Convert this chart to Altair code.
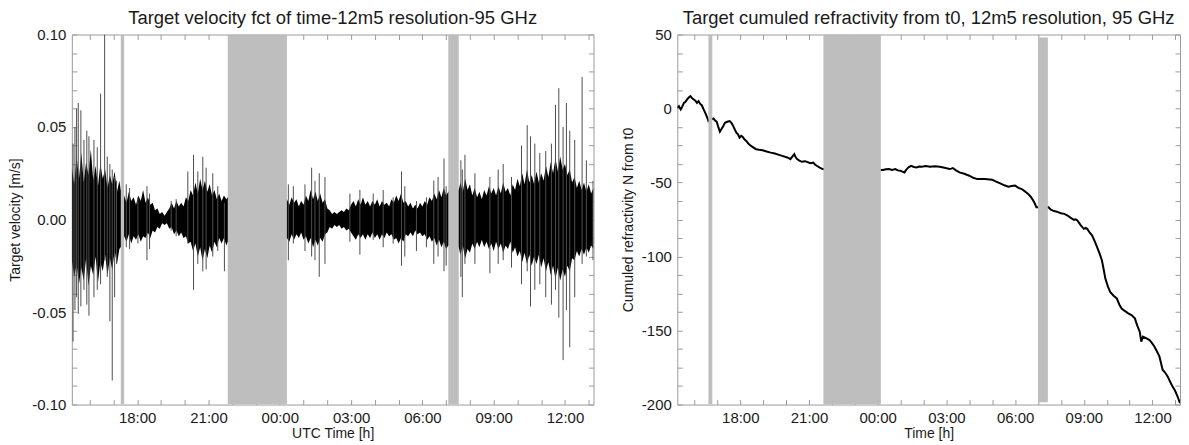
import altair as alt
import pandas as pd

# ---------------- data ----------------
# Left panel: target velocity (m/s); time in hours since 00:00 of day 1
# dense black core of the signal (upper / lower edge)
core_t = [15.25, 15.35, 15.45, 15.55, 15.65, 15.75, 15.85, 15.95, 16.05, 16.15, 16.25, 16.35,
          16.45, 16.55, 16.65, 16.75, 16.85, 16.95, 17.05, 17.15, 17.25, 17.31,
          17.45, 17.55, 17.65, 17.75, 17.85, 17.95, 18.05, 18.15, 18.25, 18.35, 18.45, 18.55,
          18.65, 18.75, 18.85, 18.95, 19.05, 19.15, 19.25, 19.35, 19.45, 19.55, 19.65, 19.75,
          19.85, 19.95, 20.05, 20.15, 20.25, 20.35, 20.45, 20.55, 20.65, 20.75, 20.85, 20.95,
          21.05, 21.15, 21.25, 21.35, 21.45, 21.55, 21.65, 21.75, 21.81,
          24.3, 24.4, 24.5, 24.6, 24.7, 24.8, 24.9, 25.0, 25.1, 25.2, 25.3, 25.4,
          25.5, 25.6, 25.7, 25.8, 25.9, 26.0, 26.1, 26.2, 26.3, 26.4, 26.5, 26.6,
          26.7, 26.8, 26.9, 27.0, 27.1, 27.2, 27.3, 27.4, 27.5, 27.6, 27.7, 27.8,
          27.9, 28.0, 28.1, 28.2, 28.3, 28.4, 28.5, 28.6, 28.7, 28.8, 28.9, 29.0,
          29.1, 29.2, 29.3, 29.4, 29.5, 29.6, 29.7, 29.8, 29.9, 30.0, 30.1, 30.2,
          30.3, 30.4, 30.5, 30.6, 30.7, 30.8, 30.9, 31.0, 31.09,
          31.53, 31.6, 31.7, 31.8, 31.9, 32.0, 32.1, 32.2, 32.3, 32.4, 32.5, 32.6,
          32.7, 32.8, 32.9, 33.0, 33.1, 33.2, 33.3, 33.4, 33.5, 33.6, 33.7, 33.8,
          33.9, 34.0, 34.1, 34.2, 34.3, 34.4, 34.5, 34.6, 34.7, 34.8, 34.9, 35.0,
          35.1, 35.2, 35.3, 35.4, 35.5, 35.6, 35.7, 35.8, 35.9, 36.0, 36.1, 36.2,
          36.3, 36.4, 36.5, 36.6, 36.7, 36.8, 36.9, 37.0, 37.1, 37.2]
core_hi = [0.028, 0.019, 0.034, 0.022, 0.036, 0.020, 0.031, 0.024, 0.038, 0.021, 0.029, 0.018,
           0.030, 0.022, 0.027, 0.017, 0.024, 0.019, 0.026, 0.015, 0.021, 0.016,
           0.013, 0.009, 0.015, 0.010, 0.012, 0.008, 0.013, 0.010, 0.016, 0.009, 0.012, 0.008,
           0.009, 0.005, 0.006, 0.003, 0.004, 0.002, 0.004, 0.006, 0.009, 0.006, 0.010, 0.007,
           0.009, 0.007, 0.012, 0.010, 0.016, 0.013, 0.020, 0.014, 0.022, 0.016, 0.021, 0.015,
           0.019, 0.013, 0.016, 0.011, 0.014, 0.010, 0.013, 0.011, 0.012,
           0.011, 0.008, 0.012, 0.009, 0.011, 0.007, 0.010, 0.008, 0.013, 0.010, 0.016, 0.011,
           0.015, 0.010, 0.014, 0.009, 0.011, 0.006, 0.005, 0.003, 0.004, 0.003, 0.004, 0.005,
           0.004, 0.006, 0.005, 0.008, 0.010, 0.007, 0.011, 0.008, 0.012, 0.008, 0.010, 0.007,
           0.010, 0.008, 0.011, 0.007, 0.010, 0.008, 0.009, 0.007, 0.011, 0.009, 0.013, 0.010,
           0.014, 0.009, 0.010, 0.007, 0.009, 0.006, 0.008, 0.006, 0.009, 0.007, 0.010, 0.008,
           0.012, 0.010, 0.014, 0.011, 0.016, 0.012, 0.017, 0.013, 0.015,
           0.016, 0.020, 0.015, 0.022, 0.016, 0.019, 0.013, 0.017, 0.012, 0.015, 0.011, 0.016,
           0.013, 0.018, 0.014, 0.017, 0.013, 0.018, 0.014, 0.020, 0.015, 0.017, 0.013, 0.019,
           0.016, 0.022, 0.018, 0.025, 0.019, 0.027, 0.020, 0.024, 0.019, 0.026, 0.020, 0.025,
           0.021, 0.029, 0.023, 0.031, 0.025, 0.033, 0.026, 0.034, 0.027, 0.030, 0.024, 0.027,
           0.020, 0.023, 0.017, 0.021, 0.016, 0.020, 0.015, 0.019, 0.014, 0.017]
core_lo = [-0.022, -0.031, -0.024, -0.035, -0.026, -0.033, -0.021, -0.036, -0.025, -0.030, -0.020, -0.034,
           -0.023, -0.028, -0.019, -0.030, -0.021, -0.027, -0.017, -0.024, -0.016, -0.015,
           -0.009, -0.012, -0.008, -0.013, -0.009, -0.011, -0.008, -0.012, -0.009, -0.010, -0.007, -0.010,
           -0.006, -0.007, -0.004, -0.005, -0.002, -0.003, -0.002, -0.005, -0.004, -0.008, -0.006, -0.009,
           -0.007, -0.010, -0.009, -0.013, -0.012, -0.017, -0.013, -0.020, -0.015, -0.022, -0.016, -0.021,
           -0.014, -0.018, -0.012, -0.015, -0.010, -0.013, -0.010, -0.014, -0.012,
           -0.010, -0.012, -0.008, -0.011, -0.008, -0.010, -0.007, -0.011, -0.009, -0.013, -0.010, -0.015,
           -0.011, -0.014, -0.010, -0.012, -0.008, -0.007, -0.004, -0.005, -0.003, -0.004, -0.003, -0.005,
           -0.004, -0.006, -0.005, -0.007, -0.009, -0.011, -0.008, -0.010, -0.008, -0.011, -0.008, -0.010,
           -0.007, -0.010, -0.008, -0.011, -0.008, -0.010, -0.007, -0.009, -0.008, -0.011, -0.010, -0.013,
           -0.010, -0.012, -0.008, -0.009, -0.007, -0.009, -0.006, -0.008, -0.007, -0.009, -0.008, -0.011,
           -0.009, -0.012, -0.010, -0.014, -0.011, -0.015, -0.012, -0.016, -0.014,
           -0.015, -0.019, -0.014, -0.021, -0.016, -0.018, -0.013, -0.016, -0.012, -0.015, -0.011, -0.015,
           -0.012, -0.016, -0.013, -0.017, -0.012, -0.016, -0.013, -0.018, -0.014, -0.016, -0.012, -0.018,
           -0.015, -0.020, -0.017, -0.023, -0.018, -0.024, -0.019, -0.025, -0.020, -0.024, -0.019, -0.026,
           -0.021, -0.028, -0.023, -0.030, -0.025, -0.032, -0.026, -0.033, -0.027, -0.031, -0.025, -0.028,
           -0.021, -0.022, -0.017, -0.020, -0.016, -0.019, -0.015, -0.018, -0.014, -0.016]

# isolated spikes that stick out of the core (top / bottom)
spike_t = [15.30, 15.38, 15.45, 15.52, 15.63, 15.76, 15.88, 15.97, 16.18, 16.32, 16.46, 16.63,
           16.74, 16.85, 16.95, 17.05, 17.13, 17.54, 17.68, 18.03, 18.41, 18.52, 19.43, 19.64,
           20.13, 20.37, 20.55, 20.76, 20.90, 21.18, 21.39, 21.67, 24.36, 24.57, 25.06, 25.34,
           25.48, 25.66, 25.90, 26.95, 27.37, 27.93, 28.35, 28.77, 29.12, 29.26, 29.75, 30.17,
           30.48, 30.66, 30.91, 31.00, 31.62, 31.68, 31.79, 32.21, 32.84, 33.19, 33.40, 33.75,
           34.17, 34.41, 34.55, 34.73, 34.94, 35.19, 35.43, 35.60, 35.74, 35.92, 36.06, 36.20,
           36.41, 36.72, 36.90, 37.18]
spike_hi = [0.041, 0.050, 0.060, 0.063, 0.059, 0.043, 0.048, 0.045, 0.043, 0.039, 0.068, 0.100,
            0.034, 0.030, 0.027, 0.023, 0.021, 0.019, 0.017, 0.012, 0.018, 0.014, 0.010, 0.011,
            0.026, 0.035, 0.026, 0.034, 0.028, 0.025, 0.018, 0.009, 0.019, 0.018, 0.019, 0.028,
            0.021, 0.025, 0.023, 0.014, 0.016, 0.014, 0.016, 0.012, 0.026, 0.018, 0.010, 0.012,
            0.021, 0.023, 0.033, 0.018, 0.032, 0.027, 0.035, 0.025, 0.023, 0.027, 0.030, 0.023,
            0.040, 0.051, 0.045, 0.041, 0.036, 0.037, 0.041, 0.062, 0.071, 0.050, 0.063, 0.048,
            0.043, 0.077, 0.032, 0.021]
spike_lo = [-0.066, -0.049, -0.042, -0.051, -0.047, -0.038, -0.046, -0.052, -0.042, -0.038, -0.035, -0.022,
            -0.031, -0.055, -0.087, -0.042, -0.024, -0.015, -0.016, -0.013, -0.022, -0.016, -0.006, -0.009,
            -0.013, -0.038, -0.024, -0.028, -0.027, -0.020, -0.017, -0.028, -0.022, -0.013, -0.017, -0.020,
            -0.022, -0.031, -0.024, -0.012, -0.019, -0.011, -0.015, -0.013, -0.025, -0.020, -0.017, -0.015,
            -0.024, -0.020, -0.028, -0.025, -0.031, -0.042, -0.024, -0.024, -0.029, -0.024, -0.022, -0.026,
            -0.035, -0.028, -0.047, -0.038, -0.035, -0.042, -0.046, -0.038, -0.053, -0.076, -0.049, -0.069,
            -0.042, -0.024, -0.020, -0.022]

vel_band_start = [17.31, 21.81, 31.09]
vel_band_end = [17.45, 24.30, 31.53]
vel_band_lo = [-0.10, -0.10, -0.10]
vel_band_hi = [0.10, 0.10, 0.10]

# Right panel: cumulated refractivity N from t0
ref_t = [15.25, 15.32, 15.40, 15.47, 15.54, 15.61, 15.68, 15.75, 15.82, 15.90, 15.97, 16.04,
         16.11, 16.18, 16.25, 16.32, 16.40, 16.47, 16.54, 16.61, 16.83, 16.90, 16.97, 17.04,
         17.11, 17.18, 17.26, 17.33, 17.43, 17.54, 17.62, 17.69, 17.76, 17.83, 17.90, 17.97,
         18.04, 18.11, 18.18, 18.26, 18.36, 18.47, 18.58, 18.69, 18.83, 18.97, 19.15, 19.33,
         19.51, 19.69, 19.87, 20.05, 20.12, 20.19, 20.28, 20.36, 20.42, 20.48, 20.58, 20.69,
         20.83, 20.98, 21.08, 21.19, 21.26, 21.34, 21.47, 21.60,
         24.23, 24.36, 24.49, 24.63, 24.77, 24.88, 24.99, 25.08, 25.17, 25.22, 25.27, 25.36,
         25.46, 25.58, 25.70, 25.81, 25.92, 26.10, 26.28, 26.50, 26.71, 26.92, 27.14, 27.21,
         27.28, 27.42, 27.57, 27.78, 28.00, 28.17, 28.35, 28.68, 29.00, 29.17, 29.35, 29.53,
         29.71, 29.85, 30.00, 30.15, 30.29, 30.43, 30.57, 30.68, 30.79, 30.86, 30.93,
         31.46, 31.55, 31.65, 31.82, 32.00, 32.15, 32.29, 32.43, 32.57, 32.65, 32.72, 32.86,
         33.00, 33.08, 33.15, 33.26, 33.36, 33.47, 33.58, 33.69, 33.79, 33.87, 33.94, 34.05,
         34.15, 34.30, 34.44, 34.55, 34.65, 34.80, 34.94, 35.08, 35.23, 35.33, 35.44, 35.51,
         35.58, 35.72, 35.87, 35.97, 36.08, 36.19, 36.30, 36.37, 36.44, 36.55, 36.66, 36.77,
         36.87, 36.98, 37.09, 37.20]
ref_n = [0.5, 1.6, -0.6, 1.4, 3.8, 4.6, 6.1, 7.4, 8.3, 6.9, 6.1, 5.3,
         3.8, 5.0, 3.1, 2.2, -0.6, -2.9, -5.4, -8.5, -6.7, -8.2, -8.9, -12.4,
         -15.6, -13.9, -11.8, -9.6, -9.0, -8.5, -9.8, -11.8, -14.2, -16.3, -17.4, -19.7,
         -18.5, -19.3, -20.8, -21.9, -23.8, -25.3, -26.4, -27.5, -27.9, -28.2, -29.1, -29.8,
         -30.4, -31.3, -32.2, -33.1, -33.5, -34.2, -32.4, -30.9, -33.0, -34.2, -35.2, -36.0,
         -35.6, -36.5, -36.9, -36.5, -37.8, -38.7, -39.9, -40.9,
         -41.6, -41.0, -40.9, -41.5, -40.9, -41.8, -42.1, -42.6, -43.2, -42.0, -40.9, -39.6,
         -38.7, -39.5, -39.8, -39.2, -39.3, -38.9, -39.4, -39.1, -39.4, -40.0, -40.9, -40.6,
         -40.2, -41.8, -43.2, -44.1, -45.4, -46.8, -47.7, -47.6, -48.1, -49.4, -50.6, -51.9,
         -52.8, -52.3, -52.1, -53.6, -54.4, -56.0, -57.7, -59.6, -62.2, -64.2, -66.7,
         -66.7, -68.2, -69.0, -69.7, -70.8, -71.2, -72.3, -73.9, -75.2, -74.9, -75.7, -78.8,
         -81.3, -80.6, -81.3, -83.9, -85.7, -89.5, -93.6, -98.0, -102.6, -108.9, -114.9, -120.2,
         -123.9, -126.5, -128.3, -132.4, -135.1, -136.9, -138.4, -139.6, -141.8, -146.5, -150.8, -157.5,
         -154.1, -155.2, -156.4, -158.3, -160.8, -164.0, -167.5, -171.9, -176.5, -178.4, -181.0, -184.6,
         -187.7, -190.5, -194.4, -199.0]

ref_band_start = [16.61, 21.63, 31.00]
ref_band_end = [16.78, 24.14, 31.43]
ref_band_lo = [-200, -200, -198.5]
ref_band_hi = [50, 50, 48]

# axis tick values (minor ticks every hour / every 0.01 / every 12.5)
hour_ticks = list(range(16, 38))
vel_ticks = [round(-0.10 + 0.01 * i, 2) for i in range(21)]
ref_ticks = [-200 + 12.5 * i for i in range(21)]

# ---------------- styling ----------------
FONT = "Liberation Sans"
FRAME = "#9c9c9c"
BAND = "#bebebe"
TXT = "#1a1a1a"
X_DOMAIN = [15.25, 37.2]
H = 371

hour_label = ("datum.value % 3 == 0 ? ((datum.value % 24 < 10 ? '0' : '') + "
              "(datum.value % 24) + ':00') : ''")
vel_label = ("abs(round(datum.value * 100) % 5) == 0 ? "
             "((datum.value < -0.0001 ? '-' : '') + format(abs(datum.value), '.2f')) : ''")
ref_label = "datum.value % 50 == 0 ? ('' + datum.value) : ''"


def main_x(title):
    return alt.Axis(title=title, values=hour_ticks, labelExpr=hour_label,
                    tickSize={"expr": "-5"}, labelPadding=11, domain=False,
                    tickColor=FRAME, labelFontSize=15, titleFontSize=14,
                    titlePadding=1, grid=False, labelOverlap=False, orient="bottom")


def mirror_x():
    return alt.Axis(title=None, values=hour_ticks, labels=False, tickSize={"expr": "-5"},
                    domain=False, tickColor=FRAME, grid=False, orient="top")


def main_y(title, values, expr, pad):
    return alt.Axis(title=title, values=values, labelExpr=expr, tickSize={"expr": "-5"},
                    labelPadding=11, domain=False, tickColor=FRAME, labelFontSize=15,
                    titleFontSize=14, titlePadding=pad, grid=False, labelOverlap=False,
                    orient="left")


def mirror_y(values):
    return alt.Axis(title=None, values=values, labels=False, tickSize={"expr": "-5"},
                    domain=False, tickColor=FRAME, grid=False, orient="right")


xs = alt.Scale(domain=X_DOMAIN, nice=False, zero=False)

# ---------------- left panel ----------------
core_df = pd.DataFrame({"t": core_t, "hi": core_hi, "lo": core_lo})
spike_df = pd.DataFrame({"t": spike_t, "hi": spike_hi, "lo": spike_lo})
vband_df = pd.DataFrame({"start": vel_band_start, "end": vel_band_end,
                         "lo": vel_band_lo, "hi": vel_band_hi})
ys_v = alt.Scale(domain=[-0.10, 0.10], nice=False, zero=False)

core = alt.Chart(core_df).mark_area(color="black", interpolate="linear", clip=True).encode(
    x=alt.X("t:Q", scale=xs, axis=main_x("UTC Time [h]")),
    y=alt.Y("hi:Q", scale=ys_v, axis=main_y("Target velocity [m/s]", vel_ticks, vel_label, 9)),
    y2="lo:Q",
)
spikes = alt.Chart(spike_df).mark_rule(color="#4d4d4d", strokeWidth=1, clip=True).encode(
    x=alt.X("t:Q", scale=xs, axis=mirror_x()),
    y=alt.Y("lo:Q", scale=ys_v, axis=mirror_y(vel_ticks)),
    y2="hi:Q",
)
vbands = alt.Chart(vband_df).mark_rect(color=BAND, clip=True).encode(
    x=alt.X("start:Q", scale=xs, axis=None),
    x2="end:Q",
    y=alt.Y("lo:Q", scale=ys_v, axis=None),
    y2="hi:Q",
)
left = alt.layer(core, spikes, vbands).resolve_axis(x="independent", y="independent").properties(
    width=523, height=H,
    title=alt.TitleParams("Target velocity fct of time-12m5 resolution-95 GHz", offset=0),
)

# ---------------- right panel ----------------
ref_df = pd.DataFrame({"t": ref_t, "n": ref_n})
rband_df = pd.DataFrame({"start": ref_band_start, "end": ref_band_end,
                         "lo": ref_band_lo, "hi": ref_band_hi})
ys_r = alt.Scale(domain=[-200, 50], nice=False, zero=False)

line = alt.Chart(ref_df).mark_line(color="black", strokeWidth=2, clip=True).encode(
    x=alt.X("t:Q", scale=xs, axis=main_x("Time [h]")),
    y=alt.Y("n:Q", scale=ys_r, axis=main_y("Cumuled refractivity N from t0", ref_ticks, ref_label, 6)),
)
rbands = alt.Chart(rband_df).mark_rect(color=BAND, clip=True).encode(
    x=alt.X("start:Q", scale=xs, axis=mirror_x()),
    x2="end:Q",
    y=alt.Y("lo:Q", scale=ys_r, axis=mirror_y(ref_ticks)),
    y2="hi:Q",
)
right = alt.layer(line, rbands).resolve_axis(x="independent", y="independent").properties(
    width=504, height=H,
    title=alt.TitleParams("Target cumuled refractivity from t0, 12m5 resolution, 95 GHz", offset=0),
)

chart = alt.hconcat(left, right, spacing=26).properties(
    padding={"left": 0, "top": 0, "right": 0, "bottom": 0}
).configure_view(
    stroke=FRAME, strokeWidth=1
).configure_axis(
    labelFont=FONT, titleFont=FONT, labelColor=TXT, titleColor=TXT, titleFontWeight="normal"
).configure_title(
    font=FONT, fontSize=18.5, fontWeight="normal", color=TXT, anchor="middle"
)

chart.save("out.html", embed_options={"renderer": "svg", "actions": False})
